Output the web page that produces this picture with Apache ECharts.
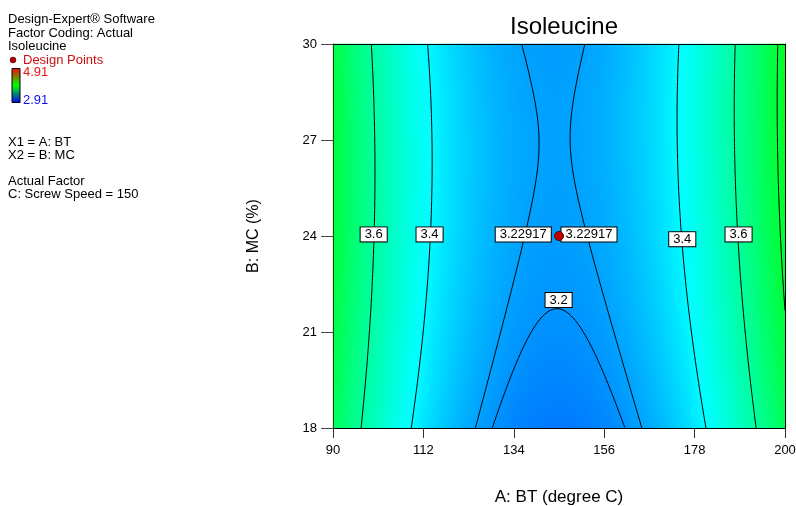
<!DOCTYPE html>
<html><head><meta charset="utf-8">
<script src="https://cdn.jsdelivr.net/npm/echarts@6/dist/echarts.min.js"></script>
<style>html,body{margin:0;padding:0;background:#fff}#c{width:796px;height:506px}</style>
</head><body><div id="c"></div>
<script>
// ---- data ----
const xTicks = [90, 112, 134, 156, 178, 200];
const yTicks = [18, 21, 24, 27, 30];
const aRange = [90, 200];
const bRange = [18, 30];
// fitted response surface (coded factors: A centre 145, half-range 55; B centre 24, half-range 6)
const modelTerms = ['Intercept', 'A', 'B', 'AB', 'A^2', 'B^2'];
const modelCoefs = [3.218, 0.016, 0.0344, 0.014, 0.59, -0.0344];
const contourLevels = [3.2, 3.22917, 3.4, 3.6, 3.8];
const labelText = ['3.6', '3.4', '3.22917', '3.22917', '3.4', '3.6', '3.2'];
const labelA = [99.9, 113.5, 136.3, 152.3, 175.0, 188.7, 144.9];
const labelB = [24.05, 24.05, 24.05, 24.05, 23.9, 24.05, 22.0];
const designA = [145];
const designB = [24];
const colorRange = [2.91, 4.91];

function model(A, B) {
  const u = (A - 145) / 55, v = (B - 24) / 6, c = modelCoefs;
  const t = [1, u, v, u * v, u * u, v * v];
  let s = 0; for (let k = 0; k < c.length; k++) s += c[k] * t[k];
  return s;
}

// ---- heatmap cells (category grid overlaid on value grid) ----
const NX = 226, NY = 96;
const heat = [];
for (let j = 0; j < NY; j++) for (let i = 0; i < NX; i++) {
  const A = aRange[0] + (i + 0.5) * (aRange[1] - aRange[0]) / NX;
  const B = bRange[0] + (j + 0.5) * (bRange[1] - bRange[0]) / NY;
  heat.push([i, j, model(A, B)]);
}
const xCats = Array.from({length: NX}, (_, i) => i);
const yCats = Array.from({length: NY}, (_, i) => i);

// ---- contours via marching squares ----
const MA = 221, MB = 121;
const gA = [], gB = [], gv = [];
for (let i = 0; i < MA; i++) gA.push(aRange[0] + i * (aRange[1] - aRange[0]) / (MA - 1));
for (let j = 0; j < MB; j++) gB.push(bRange[0] + j * (bRange[1] - bRange[0]) / (MB - 1));
for (let j = 0; j < MB; j++) { const r = []; for (let i = 0; i < MA; i++) r.push(model(gA[i], gB[j])); gv.push(r); }

function contourPaths(level) {
  const segs = [];
  function cross(va, vb) { return (va >= level) !== (vb >= level); }
  function interp(a1, b1, va, a2, b2, vb) { const t = (level - va) / (vb - va); return [a1 + t * (a2 - a1), b1 + t * (b2 - b1)]; }
  for (let j = 0; j < MB - 1; j++) for (let i = 0; i < MA - 1; i++) {
    const v00 = gv[j][i], v10 = gv[j][i + 1], v01 = gv[j + 1][i], v11 = gv[j + 1][i + 1];
    const e = [];
    if (cross(v00, v10)) e.push({id: 'h' + i + '_' + j, p: interp(gA[i], gB[j], v00, gA[i + 1], gB[j], v10), k: 'b'});
    if (cross(v10, v11)) e.push({id: 'v' + (i + 1) + '_' + j, p: interp(gA[i + 1], gB[j], v10, gA[i + 1], gB[j + 1], v11), k: 'r'});
    if (cross(v11, v01)) e.push({id: 'h' + i + '_' + (j + 1), p: interp(gA[i + 1], gB[j + 1], v11, gA[i], gB[j + 1], v01), k: 't'});
    if (cross(v01, v00)) e.push({id: 'v' + i + '_' + j, p: interp(gA[i], gB[j + 1], v01, gA[i], gB[j], v00), k: 'l'});
    if (e.length === 2) segs.push([e[0], e[1]]);
    else if (e.length === 4) {
      const c = (v00 + v10 + v01 + v11) / 4;
      const m = {}; e.forEach(x => m[x.k] = x);
      if ((c >= level) === (v00 >= level)) { segs.push([m.b, m.r]); segs.push([m.t, m.l]); }
      else { segs.push([m.l, m.b]); segs.push([m.r, m.t]); }
    }
  }
  const adj = {};
  segs.forEach((s, idx) => { s.forEach(x => { (adj[x.id] = adj[x.id] || []).push(idx); }); });
  const used = new Array(segs.length).fill(false);
  const paths = [];
  function walk(start, fromId) {
    const pts = [];
    let cur = start, enterId = fromId;
    const firstEnd = segs[cur][0].id === enterId ? segs[cur][0] : segs[cur][1];
    pts.push(firstEnd.p);
    while (cur !== -1 && !used[cur]) {
      used[cur] = true;
      const s = segs[cur];
      const out = s[0].id === enterId ? s[1] : s[0];
      pts.push(out.p);
      const nxt = (adj[out.id] || []).filter(k => !used[k]);
      enterId = out.id;
      cur = nxt.length ? nxt[0] : -1;
    }
    return pts;
  }
  Object.keys(adj).forEach(id => { if (adj[id].length === 1 && !used[adj[id][0]]) paths.push(walk(adj[id][0], id)); });
  segs.forEach((s, idx) => { if (!used[idx]) paths.push(walk(idx, s[0].id)); });
  return paths;
}

const contourSeries = [];
contourLevels.forEach(L => {
  contourPaths(L).forEach(p => {
    contourSeries.push({
      type: 'line', xAxisIndex: 0, yAxisIndex: 0, data: p, showSymbol: false, symbol: 'none',
      lineStyle: {color: '#000', width: 1}, silent: true, animation: false, z: 3
    });
  });
});

const labelData = labelText.map((t, k) => [labelA[k], labelB[k], t]);
const designData = designA.map((a, k) => [a, designB[k]]);

const FONT = '"Liberation Sans", Arial, sans-serif';
const chart = echarts.init(document.getElementById('c'), null, {renderer: 'canvas'});

const leftTexts = [
  ['Design-Expert\u00ae Software', 8, 19.5, '#000'],
  ['Factor Coding: Actual', 8, 33, '#000'],
  ['Isoleucine', 8, 46, '#000'],
  ['Design Points', 23, 60.5, '#cc1111'],
  ['4.91', 23, 72.5, '#ee1111'],
  ['2.91', 23, 100, '#1111ee'],
  ['X1 = A: BT', 8, 142.5, '#000'],
  ['X2 = B: MC', 8, 155, '#000'],
  ['Actual Factor', 8, 181.5, '#000'],
  ['C: Screw Speed = 150', 8, 194, '#000']
];
const graphics = leftTexts.map(t => ({
  type: 'text', x: t[1], y: t[2], silent: true,
  style: {text: t[0], fill: t[3], font: '13px ' + FONT, verticalAlign: 'middle', textVerticalAlign: 'middle'}
}));
graphics.push({type: 'circle', shape: {cx: 13, cy: 60, r: 3}, style: {fill: '#aa0000', stroke: '#550000', lineWidth: 0.5}, silent: true});
graphics.push({
  type: 'rect', shape: {x: 12, y: 68.5, width: 8, height: 34}, silent: true,
  style: {
    fill: new echarts.graphic.LinearGradient(0, 0, 0, 1, [
      {offset: 0, color: '#ff0000'}, {offset: 0.5, color: '#00ff00'}, {offset: 1, color: '#0000ff'}
    ]),
    stroke: '#000', lineWidth: 1
  }
});

const option = {
  animation: false,
  backgroundColor: '#fff',
  title: {
    text: 'Isoleucine', left: 559, top: 10, textAlign: 'center',
    textStyle: {fontSize: 24, fontWeight: 'normal', color: '#000', fontFamily: FONT}
  },
  grid: [
    {left: 333, top: 44, width: 452, height: 384, containLabel: false, outerBoundsMode: 'none'},
    {left: 333, top: 44, width: 452, height: 384, containLabel: false, outerBoundsMode: 'none'}
  ],
  visualMap: {
    show: false, type: 'continuous', seriesIndex: 0, dimension: 2,
    min: colorRange[0], max: colorRange[1],
    inRange: {color: ['#0000ff', '#00ffff', '#00ff00', '#ffff00', '#ff0000']}
  },
  xAxis: [
    {
      type: 'value', gridIndex: 0, min: aRange[0], max: aRange[1], position: 'bottom', z: 10,
      splitLine: {show: false},
      axisLine: {show: true, onZero: false, lineStyle: {color: '#000', width: 1}},
      axisTick: {show: true, customValues: xTicks, length: 10, lineStyle: {color: '#333'}},
      axisLabel: {customValues: xTicks, margin: 16, fontSize: 13, color: '#000', fontFamily: FONT},
      name: 'A: BT (degree C)', nameLocation: 'middle', nameGap: 61,
      nameTextStyle: {fontSize: 17, color: '#000', fontFamily: FONT}
    },
    {
      type: 'category', gridIndex: 1, data: xCats, position: 'top', z: 10, boundaryGap: true,
      axisLine: {show: true, onZero: false, lineStyle: {color: '#000', width: 1}},
      axisTick: {show: false}, axisLabel: {show: false}, splitLine: {show: false}
    }
  ],
  yAxis: [
    {
      type: 'value', gridIndex: 0, min: bRange[0], max: bRange[1], interval: 3, position: 'left', z: 10,
      splitLine: {show: false},
      axisLine: {show: true, onZero: false, lineStyle: {color: '#333', width: 1}},
      axisTick: {show: true, length: 12, lineStyle: {color: '#444'}},
      axisLabel: {margin: 16, fontSize: 13, color: '#000', fontFamily: FONT},
      name: 'B: MC (%)', nameLocation: 'middle', nameGap: 71, nameRotate: 90,
      nameTextStyle: {fontSize: 16, color: '#000', fontFamily: FONT}
    },
    {
      type: 'category', gridIndex: 1, data: yCats, position: 'right', z: 10, boundaryGap: true,
      axisLine: {show: true, onZero: false, lineStyle: {color: '#000', width: 1}},
      axisTick: {show: false}, axisLabel: {show: false}, splitLine: {show: false}
    }
  ],
  series: [
    {
      type: 'heatmap', xAxisIndex: 1, yAxisIndex: 1, data: heat, progressive: 0, silent: true,
      itemStyle: {borderWidth: 0}, emphasis: {disabled: true}, z: 1
    },
    ...contourSeries,
    {
      type: 'scatter', xAxisIndex: 0, yAxisIndex: 0, data: labelData, symbolSize: 0, silent: true, z: 5,
      itemStyle: {color: '#fff', opacity: 1},
      label: {
        show: true, position: 'inside', formatter: p => p.value[2], opacity: 1,
        backgroundColor: '#fff', borderColor: '#000', borderWidth: 1, padding: [1, 4, 0, 4],
        fontSize: 13, color: '#000', fontFamily: FONT
      }
    },
    {
      type: 'scatter', xAxisIndex: 0, yAxisIndex: 0, data: designData, symbolSize: 9, silent: true, z: 6,
      itemStyle: {color: '#c00000', borderColor: '#500000', borderWidth: 1, opacity: 1}
    }
  ],
  graphic: graphics
};
chart.setOption(option);
</script>
</body></html>
